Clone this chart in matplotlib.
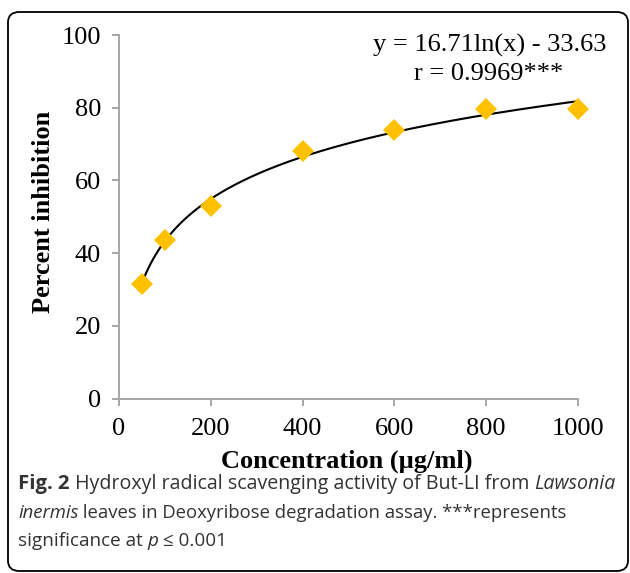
"""
Hydroxyl radical scavenging of But-LI, log trend line
"""
import numpy as np
import matplotlib
matplotlib.use('Agg')
import matplotlib.pyplot as plt
from matplotlib.patches import FancyBboxPatch

# data
conc = [50, 100, 200, 400, 600, 800, 1000]
inhibition = [31.5, 43.5, 53.0, 68.0, 73.8, 79.7, 79.7]
# log fit printed on the chart
fit_a = 16.71
fit_b = -33.63
x_ticks = [0, 200, 400, 600, 800, 1000]
y_ticks = [0, 20, 40, 60, 80, 100]

W, H = 630, 573
fig = plt.figure(figsize=(W / 100, H / 100), dpi=100)

def px(x, y):
    """pixel (top-left origin) -> figure fraction"""
    return x / W, 1 - y / H

# rounded outer frame
frame = FancyBboxPatch(px(8, 571), (628 - 8) / W, (571 - 12) / H,
                       boxstyle='round,pad=0,rounding_size=0.018',
                       transform=fig.transFigure, fill=False,
                       edgecolor='black', linewidth=1.3)
fig.patches.append(frame)

ax_l, ax_t, ax_r, ax_b = 119, 35, 578, 398.5
ax = fig.add_axes([ax_l / W, 1 - ax_b / H, (ax_r - ax_l) / W, (ax_b - ax_t) / H])

serif = 'Liberation Serif'
xs = np.linspace(min(conc), max(conc), 400)
ax.plot(xs, fit_a * np.log(xs) + fit_b, color='black', linewidth=1.5, zorder=2)
ax.plot(conc, inhibition, linestyle='none', marker='D', markersize=11,
        color='#FFC000', markeredgewidth=0, zorder=3, clip_on=False)

ax.set_xlim(0, 1000)
ax.set_ylim(0, 100)
ax.set_xticks(x_ticks)
ax.set_yticks(y_ticks)
for s in ['top', 'right']:
    ax.spines[s].set_visible(False)
for s in ['left', 'bottom']:
    ax.spines[s].set_color('#a6a6a6')
    ax.spines[s].set_linewidth(1.4)
ax.tick_params(direction='out', length=5, width=1.4, color='#a6a6a6',
               labelsize=19, pad=9)
ax.tick_params(axis='y', pad=8)
for lab in ax.get_xticklabels() + ax.get_yticklabels():
    lab.set_family(serif)

# axis titles placed by pixel centre
ax.text(*px(347, 461), 'Concentration (µg/ml)', transform=fig.transFigure,
        family=serif, fontsize=19, fontweight='bold', ha='center', va='center')
ax.text(*px(44, 212), 'Percent inhibition', transform=fig.transFigure,
        family=serif, fontsize=19, fontweight='bold', ha='center', va='center',
        rotation=90)

ax.text(*px(490, 45), 'y = 16.71ln(x) - 33.63', transform=fig.transFigure,
        family=serif, fontsize=19, ha='center', va='center')
ax.text(*px(489, 74), 'r = 0.9969***', transform=fig.transFigure,
        family=serif, fontsize=19, ha='center', va='center')

# caption with mixed styles
cap_font = 'Open Sans'
cap_col = '#333333'
lines = [
    [('Fig. 2', 'bold', 'normal', 14.6),
     (' Hydroxyl radical scavenging activity of But-LI from ', 'normal', 'normal', 14.1),
     ('Lawsonia', 'normal', 'italic', 14.1)],
    [('inermis', 'normal', 'italic', 13.3),
     (' leaves in Deoxyribose degradation assay. ***represents', 'normal', 'normal', 13.3)],
    [('significance at ', 'normal', 'normal', 13.6), ('p', 'normal', 'italic', 13.6),
     (' ≤ 0.001', 'normal', 'normal', 13.6)],
]
renderer = fig.canvas.get_renderer()
for i, runs in enumerate(lines):
    x = 18
    y = 484 + i * 28.5
    for txt, wt, st, sz in runs:
        t = fig.text(x / W, 1 - y / H, txt, family=cap_font, fontsize=sz,
                     fontweight=wt, fontstyle=st, color=cap_col, va='center',
                     ha='left')
        bb = t.get_window_extent(renderer=renderer)
        x += bb.width

fig.savefig('out.png', dpi=100)
